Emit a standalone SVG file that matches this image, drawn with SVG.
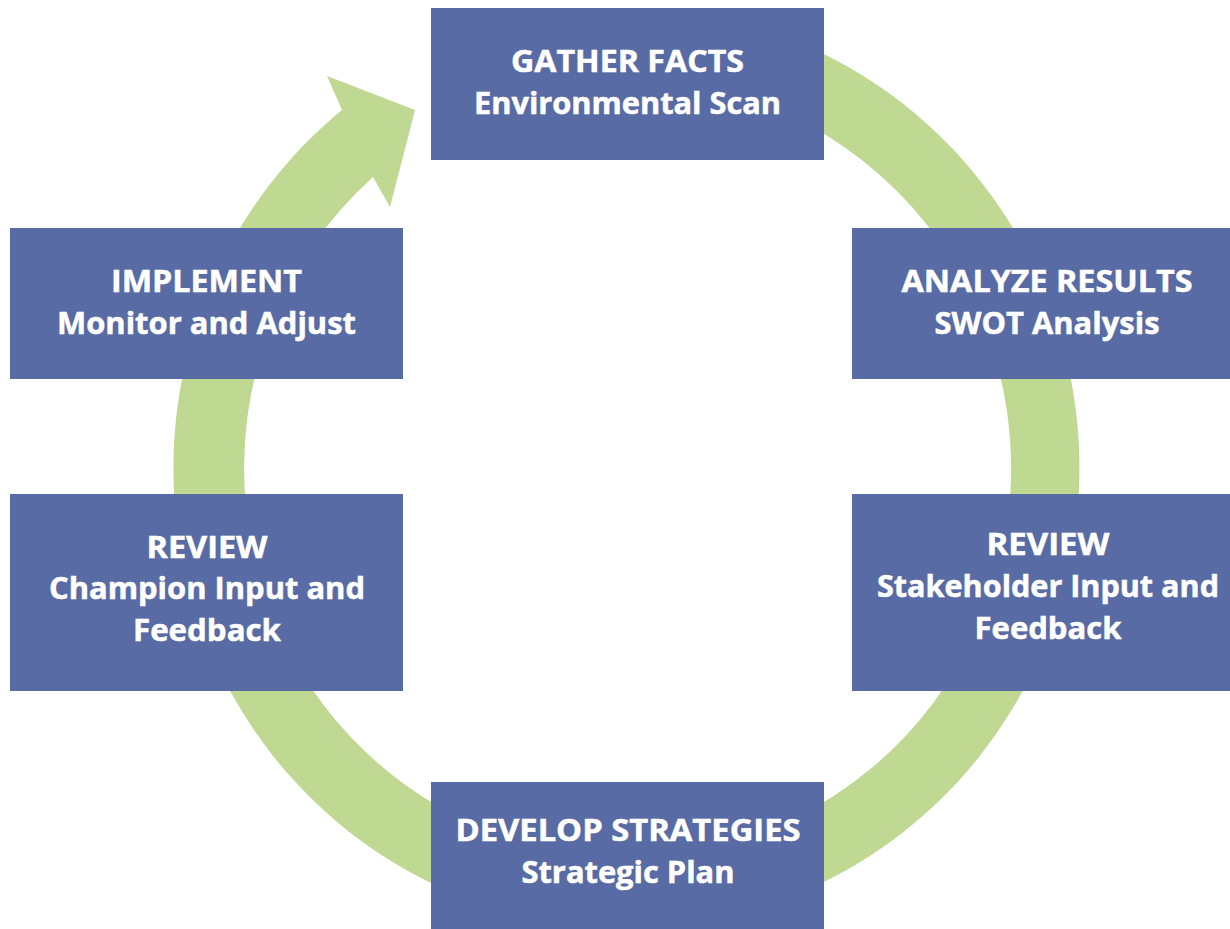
<svg xmlns="http://www.w3.org/2000/svg" width="1230" height="929" viewBox="0 0 1230 929">
  <style>
    .box { fill: #586ba4; }
    .lbl { font-family: "Open Sans", "Liberation Sans", sans-serif; font-weight: 700; font-size: 29.5px; fill: #ffffff; stroke: #ffffff; stroke-width: 0.5px; text-anchor: middle; }
    .cycle { fill: #bfd892; }
  </style>
  <rect width="1230" height="929" fill="#ffffff"/>

  <!-- cycle ring with arrowhead pointing to the first step -->
  <g id="connectors">
    <path class="cycle" d="M 342 110 A 453 460 0 1 0 560 13 L 560 85 A 383.5 389 0 1 1 373 177 L 390 207 L 415 110 L 327 76 Z"/>
  </g>

  <g id="gather">
    <rect class="box" x="431" y="8" width="393" height="152"/>
    <text class="lbl" x="627.5" y="72" textLength="233" lengthAdjust="spacingAndGlyphs">GATHER FACTS</text>
    <text class="lbl" x="627.5" y="114" textLength="307" lengthAdjust="spacingAndGlyphs">Environmental Scan</text>
  </g>

  <g id="analyze">
    <rect class="box" x="852" y="228" width="390" height="151"/>
    <text class="lbl" x="1047" y="292" textLength="291" lengthAdjust="spacingAndGlyphs">ANALYZE RESULTS</text>
    <text class="lbl" x="1047" y="334" textLength="225" lengthAdjust="spacingAndGlyphs">SWOT Analysis</text>
  </g>

  <g id="review-stakeholder">
    <rect class="box" x="852" y="494" width="390" height="197"/>
    <text class="lbl" x="1048" y="555" textLength="123" lengthAdjust="spacingAndGlyphs">REVIEW</text>
    <text class="lbl" x="1048" y="597" textLength="342" lengthAdjust="spacingAndGlyphs">Stakeholder Input and</text>
    <text class="lbl" x="1048" y="639" textLength="147" lengthAdjust="spacingAndGlyphs">Feedback</text>
  </g>

  <g id="develop">
    <rect class="box" x="431" y="782" width="393" height="150"/>
    <text class="lbl" x="628" y="841" textLength="345" lengthAdjust="spacingAndGlyphs">DEVELOP STRATEGIES</text>
    <text class="lbl" x="628" y="883" textLength="213" lengthAdjust="spacingAndGlyphs">Strategic Plan</text>
  </g>

  <g id="review-champion">
    <rect class="box" x="10" y="494" width="393" height="197"/>
    <text class="lbl" x="207" y="558" textLength="121" lengthAdjust="spacingAndGlyphs">REVIEW</text>
    <text class="lbl" x="207" y="599" textLength="316" lengthAdjust="spacingAndGlyphs">Champion Input and</text>
    <text class="lbl" x="207" y="641" textLength="148" lengthAdjust="spacingAndGlyphs">Feedback</text>
  </g>

  <g id="implement">
    <rect class="box" x="10" y="228" width="393" height="151"/>
    <text class="lbl" x="206.5" y="292" textLength="191" lengthAdjust="spacingAndGlyphs">IMPLEMENT</text>
    <text class="lbl" x="206.5" y="334" textLength="299" lengthAdjust="spacingAndGlyphs">Monitor and Adjust</text>
  </g>
</svg>
